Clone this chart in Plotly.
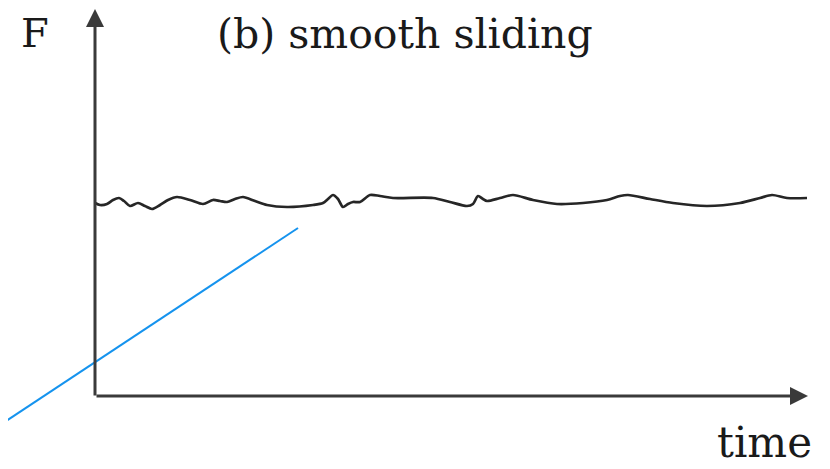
import plotly.graph_objects as go

# friction force trace (arbitrary units), smooth sliding
time_pts = [0, 5, 12, 18, 24, 29, 35, 43, 50, 57, 65, 73, 82, 95, 108, 118, 125, 132,
            140, 148, 160, 172, 192, 218, 228, 233, 238, 243, 248, 253, 258, 265, 275,
            285, 298, 338, 355, 372, 378, 383, 388, 392, 405, 418, 438, 462, 488, 512,
            525, 533, 555, 578, 612, 645, 665, 677, 692, 712]
force_pts = [194, 192, 193, 197, 199, 196, 191, 194, 191, 188, 192, 197, 200, 197, 193,
             197, 196, 195, 198, 200, 196, 192, 190, 192, 194, 198, 202, 198, 190, 193,
             195, 195, 202, 201, 199, 199, 195, 191, 193, 201, 198, 196, 199, 202, 197,
             193, 194, 197, 201, 202, 198, 194, 191, 194, 199, 202, 199, 199]

# blue pointer line
pointer_t = [-110, 203]
pointer_f = [-38, 169]

fig = go.Figure()
fig.add_trace(go.Scatter(x=time_pts, y=force_pts, mode="lines",
                         line=dict(color="#262626", width=2.7, shape="spline", smoothing=0.8),
                         hoverinfo="skip"))
fig.add_trace(go.Scatter(x=pointer_t, y=pointer_f, mode="lines",
                         line=dict(color="#1593ee", width=2), hoverinfo="skip"))

axis_col = "#3a3a3a"
# axes with arrow heads
fig.add_annotation(x=0, y=388, ax=0, ay=0, axref="x", ayref="y", text="",
                   showarrow=True, arrowhead=2, arrowsize=1.2, arrowwidth=3, arrowcolor=axis_col)
fig.add_annotation(x=713, y=1, ax=0, ay=1, axref="x", ayref="y", text="",
                   showarrow=True, arrowhead=2, arrowsize=1.2, arrowwidth=3, arrowcolor=axis_col)

serif = dict(family="DejaVu Serif", size=40, color="#1a1a1a")
fig.add_annotation(x=-60, y=389, yanchor="top", text="F", showarrow=False, font=serif)
fig.add_annotation(x=310, y=389, yanchor="top", text="(b) smooth sliding", showarrow=False,
                   font=dict(family="DejaVu Serif", size=41, color="#1a1a1a"))
fig.add_annotation(x=669, y=-72, yanchor="bottom", text="time", showarrow=False,
                   font=dict(family="DejaVu Serif", size=42, color="#1a1a1a"))

# page body has an 8px margin, so the figure is shrunk to fit the window
fig.update_layout(
    width=822, height=461,
    margin=dict(l=0, r=0, t=0, b=0),
    plot_bgcolor="white", paper_bgcolor="white",
    showlegend=False,
    xaxis=dict(range=[-87, 735], visible=False, fixedrange=True),
    yaxis=dict(range=[-72, 389], visible=False, fixedrange=True),
)

fig.write_html("out.html")
